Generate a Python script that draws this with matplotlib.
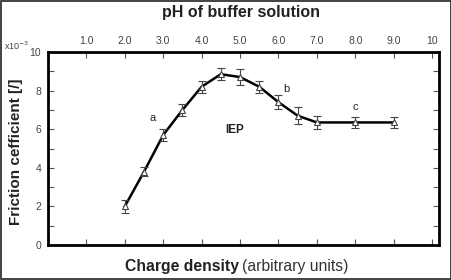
import matplotlib
matplotlib.use("Agg")
import matplotlib.pyplot as plt
from matplotlib.ticker import MultipleLocator
import numpy as np

plt.rcParams['font.family'] = ['Liberation Sans', 'DejaVu Sans']

ph = [2.0, 2.5, 3.0, 3.5, 4.0, 4.5, 5.0, 5.5, 6.0, 6.5, 7.0, 8.0, 9.0]
friction = [2.0, 3.8, 5.7, 7.0, 8.2, 8.85, 8.7, 8.2, 7.4, 6.7, 6.35, 6.35, 6.35]
err = [0.35, 0.25, 0.3, 0.3, 0.3, 0.3, 0.4, 0.3, 0.35, 0.45, 0.35, 0.3, 0.3]
top_ticks = [1, 2, 3, 4, 5, 6, 7, 8, 9, 10]
top_labels = ['1.0', '2.0', '3.0', '4.0', '5.0', '6.0', '7.0', '8.0', '9.0', '10']
y_ticks = [0, 2, 4, 6, 8, 10]

fig = plt.figure(figsize=(4.52, 2.80), dpi=100)
ax = fig.add_axes([48/452, 35/280, (439-48)/452, (245-52)/280])

ax.plot(ph, friction, color='black', lw=1.8, zorder=3)
ax.errorbar(ph, friction, yerr=err, fmt='^', ms=4.5, mfc='white', mec='#444444',
            mew=0.8, ecolor='#444444', elinewidth=0.8, capsize=3, capthick=0.8, zorder=4)

ax.set_xlim(0, 10.18)
ax.set_ylim(0, 10)
ax.set_xticks(top_ticks)
ax.xaxis.tick_top()
ax.set_xticklabels(top_labels)
ax.tick_params(axis='x', which='both', direction='in', top=True, bottom=True,
               labeltop=True, labelbottom=False, length=4, width=0.8, color='#555555',
               labelsize=7.5, labelcolor='#444444', pad=4)
ax.set_yticks(y_ticks)
ax.yaxis.set_minor_locator(MultipleLocator(1))
ax.tick_params(axis='y', which='both', direction='in', left=True, right=True,
               length=4, width=0.8, color='#555555', labelsize=7.5, labelcolor='#444444', pad=5)
for s in ax.spines.values():
    s.set_linewidth(2)

fig.text(17/452, 1 - 46/280, r'x10$^{-3}$', fontsize=6.5,
         color='#444444', ha='center', va='center')

ax.text(2.72, 6.6, 'a', fontsize=8, ha='center', va='center', color='#222222')
ax.text(4.87, 5.95, 'IEP', fontsize=8.5, fontweight='bold', ha='center', va='center', color='#222222')
ax.text(6.2, 8.1, 'b', fontsize=8, ha='center', va='center', color='#222222')
ax.text(8.0, 7.15, 'c', fontsize=8, ha='center', va='center', color='#222222')

fig.text(241/452, 1 - 12/280, 'pH of buffer solution', fontsize=11.5, fontweight='bold',
         ha='center', va='center', color='#222222')
fig.text(239/452, 1 - 267/280, 'Charge density', fontsize=11.3, fontweight='bold',
         ha='right', va='center', color='#222222')
fig.text(242/452, 1 - 267/280, '(arbitrary units)', fontsize=11.3,
         ha='left', va='center', color='#333333')
fig.text(16/452, 1 - 152/280, 'Friction cefficient [/]', fontsize=11, fontweight='bold',
         rotation=90, ha='center', va='center', color='#222222')

fig.patches.append(plt.Rectangle((0.002, 0.003), 0.996, 0.994, transform=fig.transFigure,
                                 fill=False, edgecolor='#222222', lw=1.2))

fig.savefig('out.png', dpi=100)
